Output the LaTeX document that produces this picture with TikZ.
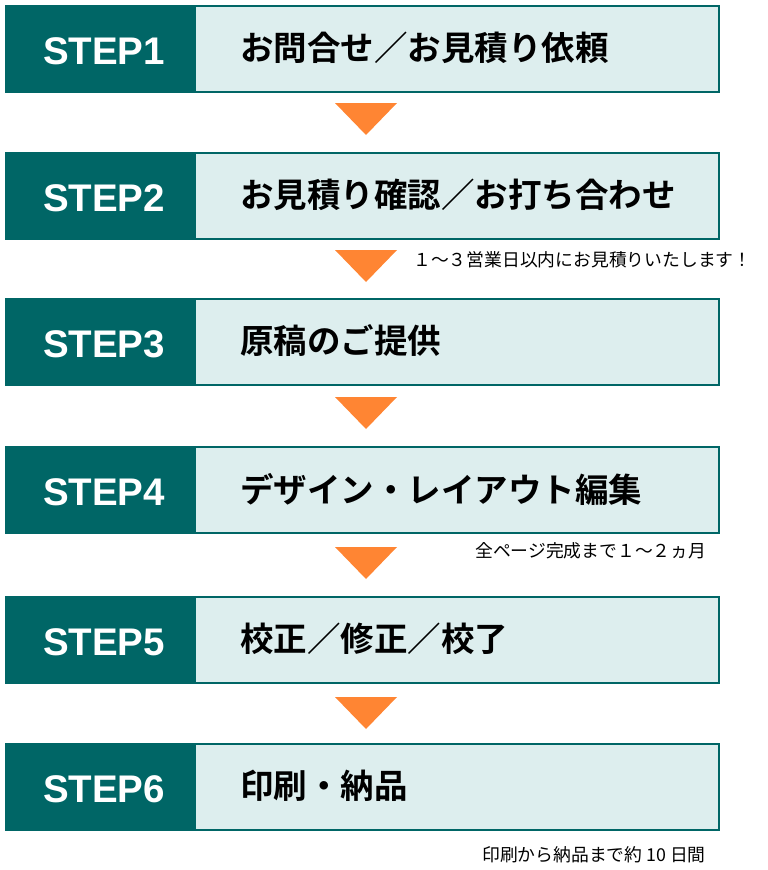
\documentclass[tikz,border=0pt]{standalone}
\usepackage{fontspec}
\setmainfont{Liberation Sans}
\newfontfamily\cjk{Noto Sans CJK JP}
\newfontfamily\cjkb{Noto Sans CJK JP Bold}
\definecolor{teal1}{HTML}{006666}
\definecolor{light1}{HTML}{DDEEEE}
\definecolor{orng}{HTML}{FF8533}
\begin{document}
\begin{tikzpicture}[x=1pt,y=-1pt,
  bodybox/.style={draw=teal1,line width=1.5pt,fill=light1},
  title/.style={anchor=west,inner sep=0pt,font=\cjkb\fontsize{33.5}{33.5}\selectfont},
  note/.style={anchor=west,inner sep=0pt,font=\cjk\fontsize{17.8}{17.8}\selectfont},
  tri/.style={fill=orng}]
\useasboundingbox (0,0) rectangle (768,870);
\foreach \i/\y/\t in {1/6/お問合せ／お見積り依頼,2/153/お見積り確認／お打ち合わせ,3/299/原稿のご提供,4/447/デザイン・レイアウト編集,5/597/校正／修正／校了,6/744/印刷・納品}{
  \draw[bodybox] (6,\y) rectangle (719,\y+86);
  \fill[teal1] (6,\y) rectangle (196,\y+86);
  \node[text=white,font=\bfseries\fontsize{38.5}{38.5}\selectfont] (s\i) at (104,\y+45) {STEP\i};
  \node[title] (t\i) at (240,\y+42) {\t};
}
\foreach \y in {103,250,397,547,697}{
  \fill[tri] (335,\y) -- (397,\y) -- (366,\y+32) -- cycle;
}
\node[note] (n1) at (413,260) {１～３営業日以内にお見積りいたします！};
\node[note] (n2) at (475,551) {全ページ完成まで１～２ヵ月};
\node[note] (n3) at (482,855) {印刷から納品まで約 10 日間};
\end{tikzpicture}
\end{document}
